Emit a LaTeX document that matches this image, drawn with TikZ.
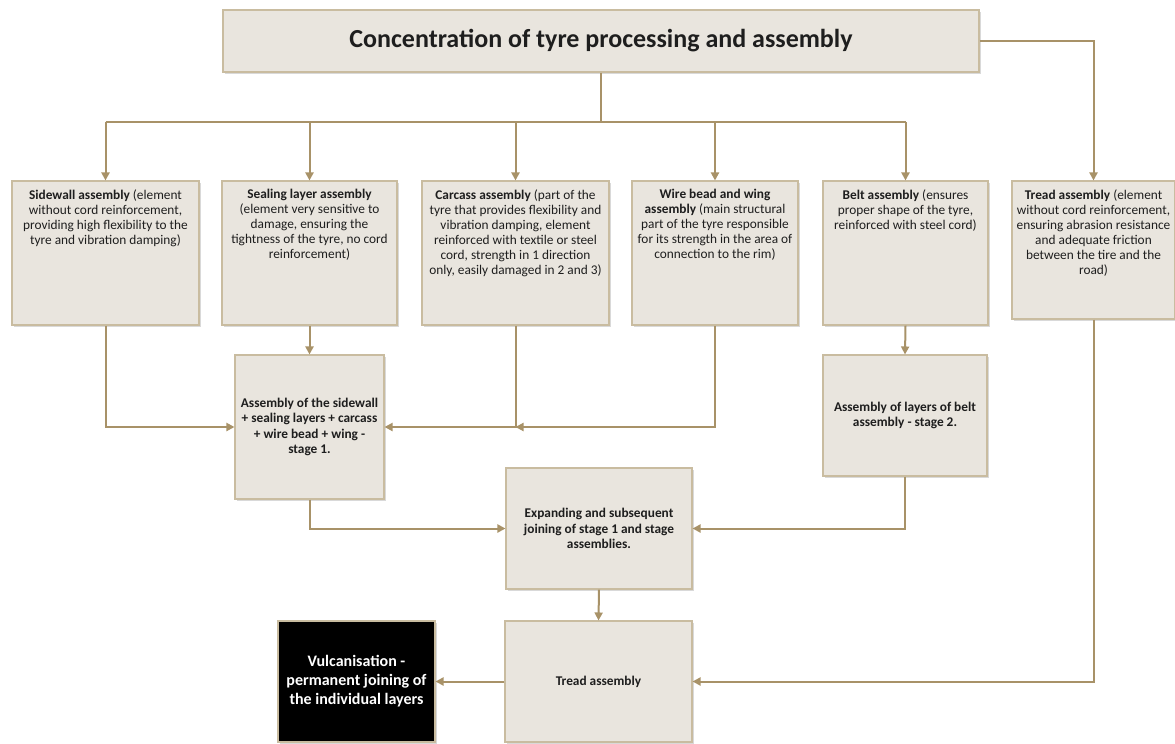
\documentclass[tikz,border=0pt]{standalone}
\usepackage{fontspec}
\setmainfont{Carlito}
\usetikzlibrary{arrows.meta,shadows}

\definecolor{boxfill}{RGB}{233,229,222}
\definecolor{boxline}{RGB}{201,188,160}
\definecolor{linkcol}{RGB}{168,146,104}
\definecolor{textcol}{RGB}{30,30,30}

\tikzset{
	box/.style={draw=boxline, line width=0.8pt, fill=boxfill, inner sep=0pt,
		drop shadow={shadow xshift=1.2pt, shadow yshift=-1.2pt, opacity=0.3, fill=black!50}},
	boxtext/.style={align=center, inner sep=0pt, text=textcol, font=\fontsize{10}{11.25}\selectfont},
	boldtext/.style={boxtext, font=\fontsize{10}{11.5}\selectfont\bfseries},
	link/.style={draw=linkcol, line width=1.5pt},
	arrow/.style={link, -{Triangle[length=6pt,width=6pt]}},
}

\begin{document}
\begin{tikzpicture}[x=0.75pt, y=-0.75pt]
	\useasboundingbox (0,0) rectangle (1175,743);

	% top box
	\node [box, minimum width=567pt, minimum height=46.5pt, text=textcol, font=\fontsize{19.5}{22}\selectfont\bfseries] (top) at (601,41) {Concentration of tyre processing and assembly};

	% component boxes
	\node [box, minimum width=140.25pt, minimum height=108pt] (side) at (105.5,253) {};
	\node [boxtext, anchor=north, yshift=-6.5pt] (side-txt) at (side.north)
		{\textbf{Sidewall assembly} (element\\ without cord reinforcement,\\ providing high flexibility to the\\ tyre and vibration damping)};

	\node [box, minimum width=131.25pt, minimum height=108pt] (seal) at (309.5,253) {};
	\node [boxtext, anchor=north, yshift=-6.5pt] (seal-txt) at (seal.north)
		{\textbf{Sealing layer assembly}\\ (element very sensitive to\\ damage, ensuring the\\ tightness of the tyre, no cord\\ reinforcement)};

	\node [box, minimum width=140.25pt, minimum height=108pt] (carc) at (515.5,253) {};
	\node [boxtext, anchor=north, yshift=-6.5pt] (carc-txt) at (carc.north)
		{\textbf{Carcass assembly} (part of the\\ tyre that provides flexibility and\\ vibration damping, element\\ reinforced with textile or steel\\ cord, strength in 1 direction\\ only, easily damaged in 2 and 3)};

	\node [box, minimum width=124.5pt, minimum height=108pt] (wire) at (715,253) {};
	\node [boxtext, anchor=north, yshift=-6.5pt] (wire-txt) at (wire.north)
		{\textbf{Wire bead and wing}\\ \textbf{assembly} (main structural\\ part of the tyre responsible\\ for its strength in the area of\\ connection to the rim)};

	\node [box, minimum width=123.75pt, minimum height=108pt] (belt) at (905.5,253) {};
	\node [boxtext, anchor=north, yshift=-6.5pt] (belt-txt) at (belt.north)
		{\textbf{Belt assembly} (ensures\\ proper shape of the tyre,\\ reinforced with steel cord)};

	\node [box, minimum width=122.25pt, minimum height=103.5pt] (tread) at (1093.5,250) {};
	\node [boxtext, anchor=north, yshift=-6.5pt] (tread-txt) at (tread.north)
		{\textbf{Tread assembly} (element\\ without cord reinforcement,\\ ensuring abrasion resistance\\ and adequate friction\\ between the tire and the\\ road)};

	% assembly stages
	\node [box, boldtext, minimum width=111.75pt, minimum height=108pt] (stage1) at (309.5,427)
		{Assembly of the sidewall\\ + sealing layers + carcass\\ + wire bead + wing -\\ stage 1.};
	\node [box, boldtext, minimum width=123pt, minimum height=90.75pt] (stage2) at (905,415.5)
		{Assembly of layers of belt\\ assembly - stage 2.};
	\node [box, boldtext, minimum width=139.5pt, minimum height=90.75pt] (expand) at (599,528.5)
		{Expanding and subsequent\\ joining of stage 1 and stage\\ assemblies.};
	\node [box, boldtext, minimum width=140.25pt, minimum height=90.75pt] (treadasm) at (598.5,681.5)
		{Tread assembly};
	\node [box, boldtext, fill=black, text=white, font=\fontsize{12}{14.25}\selectfont\bfseries,
		minimum width=117.75pt, minimum height=90.75pt] (vulc) at (356.5,681.5)
		{Vulcanisation -\\ permanent joining of\\ the individual layers};

	% distribution from the top box
	\coordinate (bus) at (601,122);
	\draw [link] (top.south) -- (bus);
	\draw [link] (side.north |- bus) -- (belt.north |- bus);
	\draw [arrow] (side.north |- bus) -- (side.north);
	\draw [arrow] (seal.north |- bus) -- (seal.north);
	\draw [arrow] (carc.north |- bus) -- (carc.north);
	\draw [arrow] (wire.north |- bus) -- (wire.north);
	\draw [arrow] (belt.north |- bus) -- (belt.north);
	\draw [arrow] (top.east) -| (tread.north);

	% stage 1 inputs
	\draw [arrow] (side.south) |- (stage1.west);
	\draw [arrow] (seal.south) -- (stage1.north);
	\draw [arrow] (carc.south) |- (stage1.east);
	\draw [arrow] (wire.south) |- (carc.south |- stage1.east);

	% stage 2 input
	\draw [arrow] (belt.south) -- (stage2.north);

	% joining and final steps
	\draw [arrow] (stage1.south) |- (expand.west);
	\draw [arrow] (stage2.south) |- (expand.east);
	\draw [arrow] (expand.south) -- (treadasm.north);
	\draw [arrow] (tread.south) |- (treadasm.east);
	\draw [arrow] (treadasm.west) -- (vulc.east);
\end{tikzpicture}
\end{document}
